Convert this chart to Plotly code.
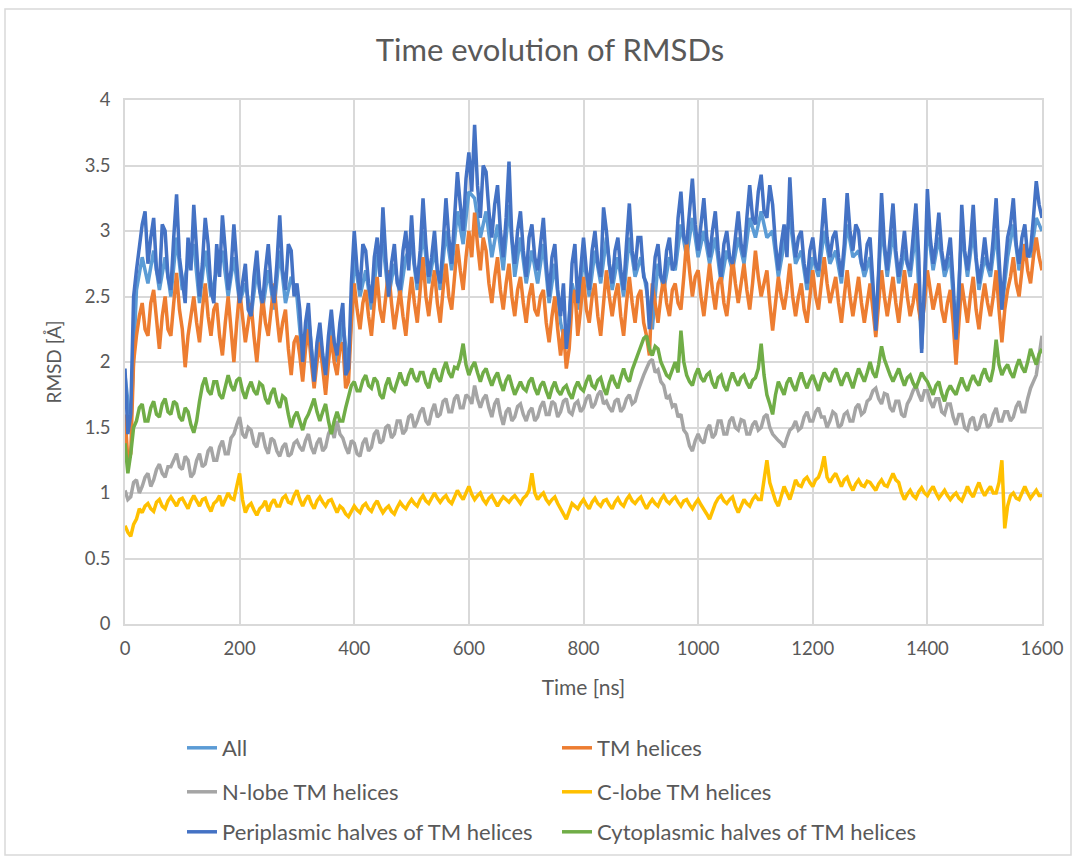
import plotly.graph_objects as go

# ---------------- data ----------------
time_5 = list(range(0, 1601, 5))     # ns, 5 ns sampling
time_10 = list(range(0, 1601, 10))   # ns, 10 ns sampling (mostly hidden series)

rmsd_all = [
    1.9, 1.5, 2.55, 2.8, 2.6, 2.85, 2.55, 2.8, 2.5, 2.95,
    2.55, 2.75, 2.9, 2.45, 2.85, 2.5, 2.7, 2.85, 2.5, 2.8,
    2.45, 2.6, 2.35, 2.7, 2.4, 2.7, 2.4, 2.85, 2.45, 2.65,
    2.5, 2.0, 2.35, 1.9, 2.2, 1.9, 2.3, 2.0, 2.3, 1.95,
    2.8, 2.5, 2.7, 2.4, 2.8, 2.9, 2.5, 2.75, 2.5, 2.8,
    2.9, 2.55, 3.0, 2.6, 2.85, 2.55, 3.0, 2.7, 3.15, 2.9,
    3.3, 3.25, 2.95, 3.15, 2.8, 3.05, 2.7, 3.2, 2.65, 2.95,
    2.6, 2.85, 2.6, 2.9, 2.45, 2.75, 2.3, 2.1, 2.6, 2.4,
    2.8, 2.5, 2.85, 2.6, 2.95, 2.55, 2.8, 2.5, 2.95, 2.65,
    2.8, 2.55, 2.25, 2.75, 2.55, 2.8, 2.7, 3.05, 2.8, 3.1,
    2.8, 3.0, 2.75, 2.95, 2.6, 2.85, 2.7, 2.95, 2.75, 3.1,
    2.95, 3.15, 2.95, 3.0, 2.65, 2.9, 3.1, 2.75, 2.85, 2.55,
    2.8, 2.65, 3.0, 2.75, 2.85, 2.6, 3.05, 2.8, 2.85, 2.65,
    2.8, 2.25, 3.05, 2.65, 3.0, 2.6, 2.85, 2.65, 3.0, 2.1,
    3.05, 2.7, 2.95, 2.65, 2.8, 2.2, 3.0, 2.65, 3.0, 2.55,
    2.8, 2.65, 3.0, 2.4, 2.8, 3.05, 2.7, 2.9, 2.8, 3.1,
    3.0,
]

rmsd_tm = [
    1.6, 1.25, 1.3, 2.0, 2.2, 2.35, 2.45, 2.25, 2.2, 2.45, 2.55, 2.3, 2.1, 2.35, 2.5, 2.25, 2.2, 2.45, 2.68, 2.4,
    2.25, 1.96, 2.2, 2.35, 2.5, 2.3, 2.15, 2.4, 2.6, 2.35, 2.2, 2.4, 2.45, 2.2, 2.05, 2.3, 2.5, 2.25, 2.0, 2.3,
    2.55, 2.35, 2.15, 2.3, 2.45, 2.2, 2.0, 2.25, 2.5, 2.3, 2.2, 2.4, 2.6, 2.35, 2.15, 2.3, 2.4, 2.1, 1.9, 2.15,
    2.2, 2.05, 1.85, 2.1, 2.25, 2.0, 1.8, 2.0, 2.15, 1.95, 1.75, 2.0, 2.2, 2.0, 1.9, 2.1, 2.15, 1.8, 1.85, 2.3,
    2.6, 2.4, 2.25, 2.45, 2.55, 2.35, 2.2, 2.45, 2.65, 2.4, 2.3, 2.5, 2.7, 2.45, 2.25, 2.4, 2.55, 2.35, 2.2, 2.45,
    2.65, 2.45, 2.3, 2.55, 2.8, 2.5, 2.35, 2.55, 2.7, 2.45, 2.3, 2.55, 2.75, 2.5, 2.4, 2.65, 2.9, 2.7, 2.55, 2.8,
    3.0, 2.8, 3.14, 2.9, 2.7, 2.95, 2.85, 2.6, 2.45, 2.65, 2.8, 2.55, 2.4, 2.6, 2.75, 2.5, 2.35, 2.55, 2.65, 2.45,
    2.3, 2.5, 2.6, 2.4, 2.35, 2.5, 2.55, 2.3, 2.15, 2.35, 2.5, 2.25, 2.05, 2.25, 1.95, 2.1, 2.45, 2.55, 2.2, 2.4,
    2.65, 2.4, 2.3, 2.5, 2.6, 2.35, 2.2, 2.45, 2.7, 2.5, 2.35, 2.5, 2.6, 2.35, 2.2, 2.45, 2.65, 2.45, 2.3, 2.5,
    2.55, 2.3, 2.2, 2.05, 2.6, 2.45, 2.3, 2.5, 2.65, 2.45, 2.35, 2.55, 2.6, 2.45, 2.4, 2.65, 2.93, 2.7, 2.5, 2.65,
    2.7, 2.5, 2.35, 2.55, 2.75, 2.55, 2.4, 2.6, 2.65, 2.45, 2.35, 2.55, 2.8, 2.6, 2.45, 2.6, 2.75, 2.55, 2.4, 2.6,
    2.85, 2.65, 2.5, 2.6, 2.7, 2.45, 2.24, 2.45, 2.65, 2.5, 2.4, 2.55, 2.75, 2.5, 2.35, 2.5, 2.6, 2.4, 2.3, 2.5,
    2.7, 2.5, 2.4, 2.6, 2.8, 2.6, 2.45, 2.55, 2.65, 2.45, 2.3, 2.5, 2.7, 2.5, 2.35, 2.5, 2.65, 2.45, 2.3, 2.45,
    2.6, 2.4, 2.19, 2.45, 2.7, 2.5, 2.35, 2.5, 2.65, 2.45, 2.3, 2.5, 2.7, 2.5, 2.35, 2.45, 2.6, 2.4, 2.27, 2.45,
    2.7, 2.55, 2.4, 2.5, 2.6, 2.4, 2.3, 2.45, 2.55, 2.3, 1.98, 2.3, 2.6, 2.45, 2.3, 2.5, 2.65, 2.4, 2.25, 2.45,
    2.6, 2.45, 2.35, 2.5, 2.7, 2.4, 2.15, 2.4, 2.55, 2.65, 2.8, 2.6, 2.5, 2.7, 2.9, 2.7, 2.6, 2.8, 2.95, 2.8,
    2.7,
]

rmsd_nlobe = [
    1.02, 0.95, 0.97, 1.08, 1.1, 1.0, 1.05, 1.12, 1.15, 1.05, 1.1, 1.18, 1.22, 1.15, 1.12, 1.2, 1.2, 1.25, 1.3, 1.2,
    1.18, 1.28, 1.25, 1.12, 1.15, 1.25, 1.3, 1.2, 1.22, 1.32, 1.35, 1.25, 1.25, 1.35, 1.4, 1.3, 1.3, 1.42, 1.45, 1.52,
    1.58, 1.45, 1.42, 1.5, 1.48, 1.38, 1.35, 1.45, 1.45, 1.35, 1.3, 1.42, 1.4, 1.32, 1.28, 1.35, 1.38, 1.28, 1.3, 1.38,
    1.4, 1.35, 1.32, 1.4, 1.45, 1.35, 1.3, 1.38, 1.42, 1.32, 1.35, 1.45, 1.5, 1.42, 1.55, 1.45, 1.42, 1.35, 1.3, 1.4,
    1.38, 1.3, 1.28, 1.38, 1.42, 1.32, 1.35, 1.45, 1.48, 1.38, 1.4, 1.5, 1.52, 1.42, 1.45, 1.55, 1.55, 1.45, 1.48, 1.58,
    1.6, 1.5, 1.55, 1.62, 1.65, 1.55, 1.52, 1.62, 1.68, 1.58, 1.6, 1.7, 1.72, 1.62, 1.62, 1.72, 1.75, 1.65, 1.65, 1.75,
    1.73, 1.68, 1.82, 1.72, 1.65, 1.72, 1.75, 1.65, 1.58, 1.68, 1.72, 1.6, 1.52, 1.62, 1.65, 1.55, 1.58, 1.66, 1.68, 1.6,
    1.55, 1.62, 1.65, 1.55, 1.58, 1.66, 1.7, 1.6, 1.6, 1.7, 1.68, 1.58, 1.62, 1.7, 1.72, 1.62, 1.6, 1.68, 1.7, 1.62,
    1.65, 1.72, 1.75, 1.65, 1.68, 1.75, 1.78, 1.68, 1.7, 1.65, 1.62, 1.7, 1.72, 1.62, 1.65, 1.72, 1.75, 1.68, 1.7, 1.78,
    1.85, 1.9, 1.95, 2.0, 2.02, 1.92, 1.94, 1.85, 1.82, 1.72, 1.74, 1.66, 1.68, 1.58, 1.6, 1.48, 1.45, 1.36, 1.32, 1.4,
    1.45, 1.4, 1.38, 1.48, 1.52, 1.42, 1.45, 1.55, 1.55, 1.45, 1.45, 1.55, 1.58, 1.5, 1.48, 1.56, 1.55, 1.45, 1.45, 1.52,
    1.55, 1.48, 1.5, 1.58, 1.6, 1.5, 1.45, 1.42, 1.4, 1.38, 1.35, 1.42, 1.48, 1.5, 1.55, 1.48, 1.5, 1.58, 1.62, 1.55,
    1.55, 1.62, 1.65, 1.58, 1.58, 1.5, 1.55, 1.62, 1.6, 1.5, 1.52, 1.6, 1.62, 1.55, 1.55, 1.65, 1.68, 1.6, 1.62, 1.7,
    1.72, 1.78, 1.8, 1.72, 1.68, 1.76, 1.75, 1.65, 1.62, 1.7, 1.7, 1.6, 1.58, 1.68, 1.72, 1.78, 1.82, 1.75, 1.7, 1.78,
    1.78, 1.7, 1.65, 1.72, 1.72, 1.62, 1.6, 1.68, 1.68, 1.58, 1.52, 1.6, 1.6, 1.5, 1.48, 1.56, 1.58, 1.48, 1.5, 1.58,
    1.6, 1.5, 1.52, 1.6, 1.65, 1.55, 1.55, 1.62, 1.62, 1.55, 1.58, 1.66, 1.7, 1.62, 1.62, 1.72, 1.8, 1.85, 1.9, 2.05,
    2.2,
]

rmsd_clobe = [
    0.75, 0.7, 0.67, 0.76, 0.8, 0.88, 0.85, 0.9, 0.92, 0.88, 0.86, 0.93, 0.95, 0.9, 0.88, 0.94, 0.97, 0.93, 0.9, 0.95,
    0.96, 0.92, 0.88, 0.94, 0.98, 0.94, 0.9, 0.95, 0.96, 0.9, 0.86, 0.92, 0.94, 0.98, 0.9, 0.95, 1.0, 0.96, 0.95, 1.05,
    1.15, 0.95, 0.85, 0.9, 0.92, 0.87, 0.83, 0.88, 0.9, 0.94, 0.86, 0.92, 0.95, 0.9, 0.9, 0.96, 0.98, 0.93, 0.92, 0.98,
    1.02, 0.95, 0.9, 0.95, 0.98, 0.92, 0.88, 0.94, 0.97, 0.93, 0.9, 0.94, 0.95, 0.9, 0.85, 0.9, 0.88, 0.84, 0.82, 0.86,
    0.9, 0.87, 0.85, 0.9, 0.92, 0.88, 0.86, 0.91, 0.94, 0.89, 0.85, 0.88, 0.9, 0.86, 0.84, 0.89, 0.93, 0.9, 0.88, 0.92,
    0.95, 0.92, 0.9, 0.95, 0.98, 0.94, 0.92, 0.96, 1.0, 0.96, 0.93, 0.96, 0.98, 0.94, 0.92, 0.97, 1.02, 0.98, 0.95, 1.0,
    1.05, 0.99, 0.95, 0.98, 1.0, 0.95, 0.92, 0.96, 0.98, 0.94, 0.9, 0.94, 0.97, 0.95, 0.93, 0.96, 0.98, 0.95, 0.92, 0.96,
    0.98, 1.02, 1.15, 1.0, 0.95, 0.98, 1.0, 0.95, 0.92, 0.95, 0.97, 0.92, 0.88, 0.84, 0.8, 0.86, 0.92, 0.9, 0.88, 0.92,
    0.95, 0.91, 0.88, 0.93, 0.96, 0.92, 0.9, 0.94, 0.95, 0.91, 0.88, 0.93, 0.96, 0.92, 0.9, 0.95, 0.98, 0.94, 0.92, 0.95,
    0.97, 0.92, 0.88, 0.92, 0.95, 0.92, 0.9, 0.95, 0.98, 0.94, 0.92, 0.95, 0.97, 0.93, 0.9, 0.94, 0.95, 0.91, 0.88, 0.92,
    0.95, 0.91, 0.88, 0.84, 0.8, 0.86, 0.92, 0.96, 0.98, 0.94, 0.92, 0.95, 0.97, 0.9, 0.85, 0.9, 0.95, 0.92, 0.9, 0.95,
    0.98, 0.95, 0.95, 1.1, 1.25, 1.08, 1.0, 0.94, 0.9, 0.98, 1.05, 1.0, 0.95, 1.02, 1.1, 1.06, 1.05, 1.1, 1.12, 1.08,
    1.05, 1.1, 1.12, 1.18, 1.28, 1.12, 1.08, 1.12, 1.15, 1.1, 1.05, 1.1, 1.12, 1.06, 1.02, 1.07, 1.1, 1.06, 1.05, 1.09,
    1.08, 1.05, 1.02, 1.07, 1.1, 1.06, 1.05, 1.1, 1.15, 1.1, 1.08, 1.0, 0.95, 0.99, 1.02, 0.98, 0.96, 1.01, 1.04, 1.0,
    0.98, 1.02, 1.05, 1.0, 0.96, 0.99, 1.02, 0.98, 0.95, 0.98, 1.0, 0.96, 0.94, 0.99, 1.05, 1.0, 0.97, 1.03, 1.08, 1.02,
    0.98, 1.02, 1.05, 1.0, 1.0, 1.08, 1.25, 0.73, 0.9, 0.98, 1.0, 0.96, 0.95, 1.0, 1.05, 1.0, 0.96, 0.99, 1.02, 0.98,
    0.98,
]

rmsd_peri = [
    1.95, 1.45, 1.6, 2.5, 2.7, 2.9, 3.05, 3.15, 2.75, 2.95, 3.1, 2.7, 2.6, 3.05, 3.0, 2.65, 2.55, 2.95, 3.28, 2.8,
    2.6, 2.45, 2.95, 2.7, 3.2, 2.85, 2.5, 2.75, 3.1, 2.9, 2.55, 2.45, 2.9, 2.65, 3.12, 2.85, 2.55, 2.7, 3.05, 2.75,
    2.45, 2.6, 2.75, 2.4, 2.35, 2.65, 2.85, 2.55, 2.45, 2.7, 2.9, 2.6, 2.45, 2.75, 3.12, 2.7, 2.55, 2.9, 2.85, 2.5,
    2.6, 2.4, 2.0, 2.3, 2.45, 2.1, 1.85, 2.15, 2.3, 2.05, 1.9, 2.2, 2.4, 2.15, 2.05, 2.3, 2.45, 1.9, 1.95, 2.6,
    3.0, 2.7, 2.55, 2.9, 2.85, 2.6, 2.45, 2.8, 2.95, 2.65, 3.18, 2.8, 2.5, 2.75, 2.9, 2.6, 2.55, 2.85, 3.0, 2.7,
    3.12, 2.75, 2.6, 2.85, 3.25, 2.9, 2.65, 2.8, 3.0, 2.7, 2.6, 2.9, 3.25, 2.95, 2.75, 3.1, 3.45, 3.2, 3.0, 3.4,
    3.6, 3.3, 3.81, 3.35, 3.1, 3.5, 3.45, 3.15, 2.95, 3.2, 3.35, 3.0, 2.8, 3.1, 3.53, 2.95, 2.75, 3.0, 3.15, 2.85,
    2.65, 2.95, 3.05, 2.8, 2.7, 2.9, 3.1, 2.75, 2.5, 2.8, 2.9, 2.55, 2.35, 2.6, 2.1, 2.3, 2.75, 2.9, 2.45, 2.7,
    2.95, 2.7, 2.55, 2.85, 3.0, 2.75, 2.65, 3.18, 3.0, 2.75, 2.6, 2.85, 2.95, 2.7, 2.55, 2.9, 3.21, 2.85, 2.7, 2.95,
    2.95, 2.65, 2.6, 2.25, 2.5, 2.8, 2.9, 2.65, 2.6, 2.85, 2.95, 2.7, 2.75, 3.1, 3.3, 2.95, 2.9, 3.15, 3.4, 3.05,
    2.85, 3.05, 3.25, 2.95, 2.8, 3.0, 3.15, 2.85, 2.65, 2.9, 3.0, 2.8, 2.75, 2.95, 3.15, 2.9, 2.8, 3.1, 3.35, 3.1,
    3.05, 3.3, 3.43, 3.15, 3.1, 3.35, 3.2, 2.9, 2.7, 2.9, 3.05, 2.8, 3.41, 3.0, 2.8, 2.95, 3.0, 2.75, 2.6, 2.85,
    2.95, 2.75, 2.7, 2.95, 3.25, 2.95, 2.8, 2.95, 3.0, 2.8, 2.65, 2.9, 3.29, 3.0, 2.85, 3.05, 3.0, 2.75, 2.7, 2.9,
    2.95, 2.6, 2.24, 2.7, 3.29, 2.9, 2.7, 2.95, 3.21, 2.85, 2.65, 2.8, 3.0, 2.75, 2.7, 2.95, 3.21, 2.8, 2.07, 2.6,
    3.32, 2.95, 2.75, 2.9, 3.14, 2.85, 2.7, 2.8, 2.95, 2.6, 2.17, 2.5, 3.2, 2.85, 2.7, 2.9, 3.2, 2.8, 2.6, 2.75,
    2.95, 2.75, 2.7, 2.95, 3.25, 2.8, 2.4, 2.7, 2.95, 3.05, 3.25, 2.9, 2.75, 2.95, 3.05, 2.8, 2.85, 3.1, 3.38, 3.2,
    3.1,
]

rmsd_cyto = [
    1.38, 1.15, 1.3, 1.5, 1.55, 1.65, 1.68, 1.55, 1.55, 1.65, 1.7, 1.6, 1.58, 1.68, 1.72, 1.62, 1.6, 1.7, 1.68, 1.58,
    1.55, 1.65, 1.62, 1.52, 1.46, 1.55, 1.7, 1.82, 1.88, 1.78, 1.75, 1.85, 1.85, 1.75, 1.72, 1.82, 1.9, 1.82, 1.78, 1.86,
    1.88, 1.78, 1.72, 1.8, 1.85, 1.78, 1.75, 1.84, 1.82, 1.72, 1.68, 1.76, 1.8, 1.7, 1.65, 1.74, 1.72, 1.6, 1.5, 1.58,
    1.62, 1.55, 1.48, 1.56, 1.6, 1.66, 1.72, 1.62, 1.55, 1.62, 1.68, 1.55, 1.45, 1.55, 1.62, 1.55, 1.55, 1.65, 1.75, 1.82,
    1.85, 1.78, 1.78, 1.86, 1.9, 1.82, 1.8, 1.88, 1.85, 1.75, 1.72, 1.82, 1.88, 1.8, 1.78, 1.86, 1.92, 1.85, 1.82, 1.9,
    1.95, 1.88, 1.85, 1.92, 1.92, 1.84, 1.8, 1.9, 1.95, 1.88, 1.85, 1.94, 2.0, 1.92, 1.88, 1.96, 1.95, 2.02, 2.14, 1.98,
    1.9, 1.96, 2.0, 1.92, 1.85, 1.92, 1.95, 1.88, 1.82, 1.88, 1.92, 1.84, 1.78, 1.86, 1.9, 1.82, 1.75, 1.8, 1.85, 1.8,
    1.78, 1.85, 1.88, 1.8, 1.75, 1.82, 1.85, 1.78, 1.72, 1.8, 1.85, 1.78, 1.75, 1.8, 1.82, 1.76, 1.72, 1.8, 1.85, 1.8,
    1.78, 1.85, 1.9, 1.82, 1.8, 1.86, 1.88, 1.8, 1.75, 1.84, 1.9, 1.84, 1.8, 1.88, 1.95, 1.88, 1.85, 1.94, 2.0, 2.05,
    2.12, 2.18, 2.2, 2.1, 2.05, 2.12, 2.1, 2.0, 1.95, 1.9, 1.88, 1.95, 2.0, 1.92, 2.24, 2.0, 1.9, 1.85, 1.82, 1.9,
    1.95, 1.88, 1.85, 1.9, 1.92, 1.84, 1.8, 1.88, 1.9, 1.82, 1.78, 1.86, 1.92, 1.86, 1.82, 1.88, 1.9, 1.84, 1.8, 1.86,
    1.88, 1.95, 2.14, 1.9, 1.75, 1.68, 1.6, 1.75, 1.85, 1.8, 1.75, 1.84, 1.88, 1.82, 1.78, 1.86, 1.92, 1.85, 1.8, 1.86,
    1.9, 1.84, 1.78, 1.86, 1.92, 1.88, 1.85, 1.92, 1.95, 1.88, 1.82, 1.88, 1.92, 1.86, 1.8, 1.88, 1.95, 1.9, 1.85, 1.92,
    2.0, 1.92, 1.88, 1.98, 2.12, 2.02, 1.95, 1.9, 1.85, 1.9, 1.95, 1.88, 1.82, 1.88, 1.9, 1.84, 1.8, 1.86, 1.92, 1.88,
    1.85, 1.8, 1.75, 1.82, 1.85, 1.76, 1.7, 1.78, 1.82, 1.78, 1.75, 1.82, 1.88, 1.82, 1.78, 1.85, 1.9, 1.85, 1.82, 1.9,
    1.95, 1.88, 1.85, 1.95, 2.17, 1.98, 1.9, 1.95, 1.98, 1.92, 1.88, 1.96, 2.02, 1.96, 1.92, 2.0, 2.1, 2.04, 1.98, 2.06,
    2.1,
]

series_names = ["All", "TM helices", "N-lobe TM helices", "C-lobe TM helices",
                "Periplasmic halves of TM helices", "Cytoplasmic halves of TM helices"]
x_ticks = [0, 200, 400, 600, 800, 1000, 1200, 1400, 1600]
y_ticks = [0, 0.5, 1, 1.5, 2, 2.5, 3, 3.5, 4]

# ---------------- styling ----------------
colors = ["#5B9BD5", "#ED7D31", "#A5A5A5", "#FFC000", "#4472C4", "#70AD47"]
legend_ids = ["legend", "legend", "legend2", "legend2", "legend3", "legend3"]
xs = [time_10, time_5, time_5, time_5, time_5, time_5]
ys = [rmsd_all, rmsd_tm, rmsd_nlobe, rmsd_clobe, rmsd_peri, rmsd_cyto]

FONT = "Lato"
TXT = "#595959"
GRID = "#D9D9D9"

fig = go.Figure()
for name, x, y, c, lg in zip(series_names, xs, ys, colors, legend_ids):
    fig.add_trace(go.Scatter(x=x, y=y, mode="lines", name=name,
                             line=dict(color=c, width=3.5), legend=lg))

L, R, T, B = 125, 34, 100, 236
W, H = 1076, 860
pw, ph = W - L - R, H - T - B

def px_x(p):
    return (p - L) / pw

def px_y(p):
    return (H - B - p) / ph

legend_common = dict(orientation="h", xanchor="left", yanchor="middle",
                     xref="container", yref="container",
                     font=dict(family=FONT, size=22, color=TXT),
                     entrywidth=330, bgcolor="rgba(0,0,0,0)")

fig.update_layout(
    width=W, height=H,
    margin=dict(l=L, r=R, t=T, b=B, autoexpand=False),
    paper_bgcolor="white", plot_bgcolor="white",
    font=dict(family=FONT, color=TXT),
    title=dict(text="Time evolution of RMSDs", x=550 / W, xref="container",
               xanchor="center", y=1 - 50 / H, yanchor="middle",
               font=dict(family=FONT, size=31, color=TXT)),
    xaxis=dict(range=[0, 1600], tickvals=x_ticks, showgrid=True, gridcolor=GRID, gridwidth=1.5,
               showline=True, linecolor=GRID, linewidth=1.5, mirror=True, zeroline=False,
               ticks="", tickfont=dict(family=FONT, size=18.5, color=TXT), ticklabelstandoff=7,
               title=dict(text="Time [ns]", font=dict(family=FONT, size=21, color=TXT), standoff=22)),
    yaxis=dict(range=[0, 4], tickvals=y_ticks, showgrid=True, gridcolor=GRID, gridwidth=1.5,
               showline=True, linecolor=GRID, linewidth=1.5, mirror=True, zeroline=False,
               ticks="", tickfont=dict(family=FONT, size=18.5, color=TXT), ticklabelstandoff=9,
               title=dict(text="RMSD [Å]", font=dict(family=FONT, size=19, color=TXT), standoff=18)),
    legend=dict(x=182 / W, y=1 - 748 / H, **legend_common),
    legend2=dict(x=182 / W, y=1 - 792 / H, **legend_common),
    legend3=dict(x=182 / W, y=1 - 832 / H, **legend_common),
    shapes=[dict(type="rect", xref="paper", yref="paper",
                 x0=px_x(5), x1=px_x(1071), y0=px_y(855), y1=px_y(9),
                 line=dict(color=GRID, width=1.5), fillcolor="rgba(0,0,0,0)", layer="below")],
)

fig.write_html("out.html",
               config={"displayModeBar": False},
               post_script="document.body.style.margin='0';document.body.style.overflow='hidden';")
